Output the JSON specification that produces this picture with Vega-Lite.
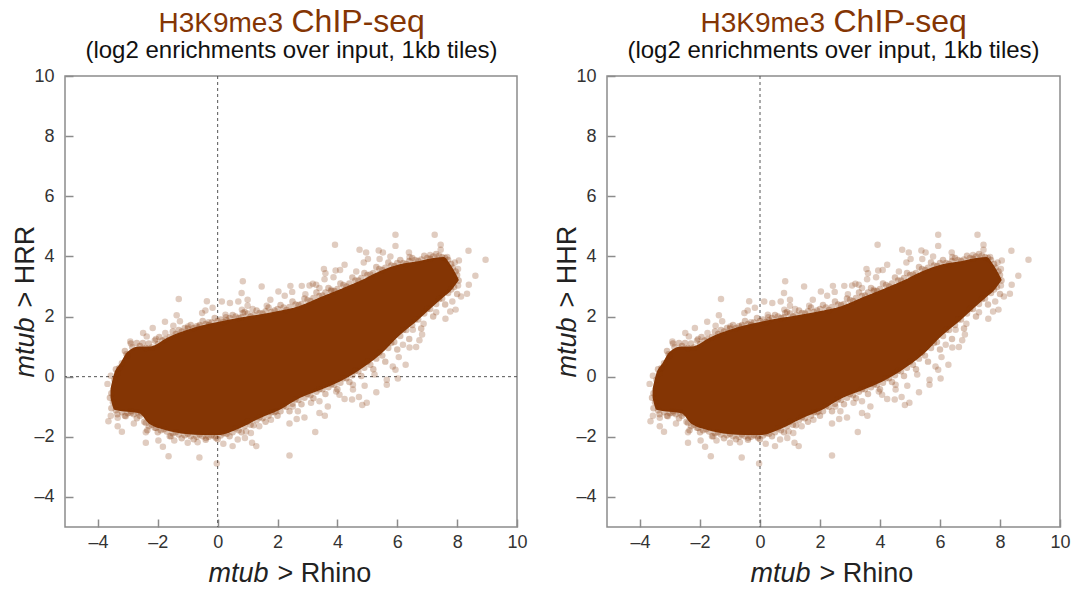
{"$schema":"https://vega.github.io/schema/vega-lite/v6.json","padding":{"left":10,"top":4,"right":0,"bottom":0},"background":"white","bounds":"flush","spacing":90,
"config":{"view":{"stroke":"#8c8c8c","strokeWidth":1.5},"font":"Liberation Sans","title":{"font":"Liberation Sans"},"axis":{"grid":false,"labelFont":"Liberation Sans","titleFont":"Liberation Sans"}},
"datasets":{
"core":[{"x":-3.58,"hi":-0.4,"lo":-0.7},{"x":-3.45,"hi":0.12,"lo":-1.1},{"x":-3.25,"hi":0.45,"lo":-1.14},{"x":-3.01,"hi":0.83,"lo":-1.17},{"x":-2.62,"hi":1.0,"lo":-1.22},{"x":-2.29,"hi":1.0,"lo":-1.57},{"x":-2.12,"hi":1.04,"lo":-1.66},{"x":-1.73,"hi":1.27,"lo":-1.78},{"x":-1.06,"hi":1.54,"lo":-1.91},{"x":-0.5,"hi":1.71,"lo":-1.94},{"x":0,"hi":1.82,"lo":-1.94},{"x":0.72,"hi":1.96,"lo":-1.72},{"x":1.39,"hi":2.07,"lo":-1.39},{"x":2.06,"hi":2.19,"lo":-1.11},{"x":2.73,"hi":2.35,"lo":-0.72},{"x":3.4,"hi":2.63,"lo":-0.45},{"x":4.07,"hi":2.9,"lo":-0.17},{"x":4.74,"hi":3.18,"lo":0.22},{"x":5.41,"hi":3.51,"lo":0.72},{"x":6.08,"hi":3.74,"lo":1.38},{"x":6.74,"hi":3.85,"lo":1.93},{"x":7.3,"hi":3.96,"lo":2.43},{"x":7.55,"hi":3.98,"lo":2.65},{"x":7.78,"hi":3.72,"lo":2.85},{"x":8.05,"hi":3.24,"lo":3.2}],
"fringe":[{"x":-3.45,"y":-0.1},{"x":-3.35,"y":0.12},{"x":-3.2,"y":0.45},{"x":-3.05,"y":0.75},{"x":-2.85,"y":0.98},{"x":-2.6,"y":1.02},{"x":-2.4,"y":0.95},{"x":-2.2,"y":0.97},{"x":-2.0,"y":1.08},{"x":-1.85,"y":1.2},{"x":-1.6,"y":1.32},{"x":-1.4,"y":1.42},{"x":-1.2,"y":1.5},{"x":-1,"y":1.6},{"x":-0.8,"y":1.62},{"x":-0.6,"y":1.72},{"x":-0.4,"y":1.75},{"x":-0.2,"y":1.8},{"x":0,"y":1.85},{"x":0.2,"y":1.82},{"x":0.4,"y":1.95},{"x":0.6,"y":2.0},{"x":0.8,"y":1.98},{"x":1,"y":2.1},{"x":1.2,"y":2.05},{"x":1.4,"y":2.12},{"x":1.6,"y":2.18},{"x":1.8,"y":2.15},{"x":2,"y":2.25},{"x":2.2,"y":2.3},{"x":2.4,"y":2.32},{"x":2.6,"y":2.4},{"x":2.8,"y":2.42},{"x":3,"y":2.55},{"x":3.2,"y":2.62},{"x":3.4,"y":2.68},{"x":3.6,"y":2.8},{"x":3.8,"y":2.85},{"x":4,"y":2.92},{"x":4.2,"y":3.05},{"x":4.4,"y":3.1},{"x":4.6,"y":3.2},{"x":4.8,"y":3.28},{"x":5,"y":3.38},{"x":5.2,"y":3.45},{"x":5.4,"y":3.58},{"x":5.6,"y":3.62},{"x":5.8,"y":3.7},{"x":6,"y":3.78},{"x":6.2,"y":3.78},{"x":6.4,"y":3.85},{"x":6.6,"y":3.88},{"x":6.8,"y":3.9},{"x":7,"y":3.95},{"x":7.2,"y":4.0},{"x":7.4,"y":4.02},{"x":7.6,"y":3.95},{"x":7.8,"y":3.75},{"x":7.95,"y":3.5},{"x":8.05,"y":3.2},{"x":-3.55,"y":-0.55},{"x":-3.5,"y":-0.85},{"x":-3.4,"y":-1.12},{"x":-3.2,"y":-1.18},{"x":-3,"y":-1.22},{"x":-2.8,"y":-1.25},{"x":-2.6,"y":-1.3},{"x":-2.45,"y":-1.5},{"x":-2.3,"y":-1.65},{"x":-2.1,"y":-1.7},{"x":-1.9,"y":-1.78},{"x":-1.7,"y":-1.82},{"x":-1.5,"y":-1.88},{"x":-1.3,"y":-1.92},{"x":-1.1,"y":-1.95},{"x":-0.9,"y":-1.98},{"x":-0.7,"y":-2},{"x":-0.5,"y":-1.98},{"x":-0.3,"y":-2},{"x":-0.1,"y":-1.98},{"x":0.1,"y":-1.96},{"x":0.3,"y":-1.9},{"x":0.5,"y":-1.85},{"x":0.7,"y":-1.78},{"x":0.9,"y":-1.65},{"x":1.1,"y":-1.6},{"x":1.3,"y":-1.45},{"x":1.5,"y":-1.38},{"x":1.7,"y":-1.3},{"x":1.9,"y":-1.18},{"x":2.1,"y":-1.15},{"x":2.3,"y":-1.0},{"x":2.5,"y":-0.9},{"x":2.7,"y":-0.78},{"x":2.9,"y":-0.7},{"x":3.1,"y":-0.62},{"x":3.3,"y":-0.5},{"x":3.5,"y":-0.42},{"x":3.7,"y":-0.35},{"x":3.9,"y":-0.28},{"x":4.1,"y":-0.2},{"x":4.3,"y":-0.05},{"x":4.5,"y":0.05},{"x":4.7,"y":0.18},{"x":4.9,"y":0.3},{"x":5.1,"y":0.4},{"x":5.3,"y":0.6},{"x":5.5,"y":0.7},{"x":5.7,"y":0.95},{"x":5.9,"y":1.15},{"x":6.1,"y":1.35},{"x":6.3,"y":1.55},{"x":6.5,"y":1.72},{"x":6.7,"y":1.9},{"x":6.9,"y":2.1},{"x":7.1,"y":2.25},{"x":7.3,"y":2.42},{"x":7.5,"y":2.6},{"x":7.7,"y":2.78},{"x":7.9,"y":2.98},
{"x":-3.4,"y":0.25},{"x":-3.1,"y":0.85},{"x":-2.9,"y":1.1},{"x":-2.7,"y":1.12},{"x":-2.5,"y":1.12},{"x":-2.3,"y":1.1},{"x":-2.1,"y":1.2},{"x":-1.95,"y":1.32},{"x":-1.75,"y":1.25},{"x":-1.5,"y":1.5},{"x":-1.3,"y":1.55},{"x":-1.1,"y":1.62},{"x":-0.9,"y":1.72},{"x":-0.7,"y":1.68},{"x":-0.5,"y":1.85},{"x":-0.3,"y":1.72},{"x":-0.1,"y":1.95},{"x":0.1,"y":1.9},{"x":0.3,"y":1.88},{"x":0.5,"y":2.05},{"x":0.7,"y":1.95},{"x":0.9,"y":2.15},{"x":1.1,"y":2.0},{"x":1.3,"y":2.2},{"x":1.5,"y":2.1},{"x":1.7,"y":2.3},{"x":1.9,"y":2.2},{"x":2.1,"y":2.38},{"x":2.3,"y":2.22},{"x":2.5,"y":2.5},{"x":2.7,"y":2.38},{"x":2.9,"y":2.6},{"x":3.1,"y":2.52},{"x":3.3,"y":2.8},{"x":3.5,"y":2.7},{"x":3.7,"y":2.95},{"x":3.9,"y":2.85},{"x":4.1,"y":3.1},{"x":4.3,"y":3.0},{"x":4.5,"y":3.3},{"x":4.7,"y":3.2},{"x":4.9,"y":3.45},{"x":5.1,"y":3.4},{"x":5.3,"y":3.65},{"x":5.5,"y":3.55},{"x":5.7,"y":3.8},{"x":5.9,"y":3.68},{"x":6.1,"y":3.88},{"x":6.3,"y":3.75},{"x":6.5,"y":3.95},{"x":6.7,"y":3.85},{"x":6.9,"y":4.02},{"x":7.1,"y":3.92},{"x":7.3,"y":4.08},{"x":7.5,"y":3.98},{"x":7.7,"y":3.88},{"x":7.85,"y":3.62},{"x":8.0,"y":3.38},
{"x":-3.6,"y":-0.7},{"x":-3.55,"y":-1.05},{"x":-3.35,"y":-1.25},{"x":-3.1,"y":-1.3},{"x":-2.9,"y":-1.15},{"x":-2.7,"y":-1.38},{"x":-2.55,"y":-1.22},{"x":-2.35,"y":-1.78},{"x":-2.2,"y":-1.6},{"x":-2,"y":-1.85},{"x":-1.8,"y":-1.75},{"x":-1.6,"y":-1.98},{"x":-1.4,"y":-1.85},{"x":-1.2,"y":-2.05},{"x":-1,"y":-1.9},{"x":-0.8,"y":-2.08},{"x":-0.6,"y":-1.92},{"x":-0.4,"y":-2.1},{"x":-0.2,"y":-1.95},{"x":0,"y":-2.08},{"x":0.2,"y":-1.88},{"x":0.4,"y":-1.98},{"x":0.6,"y":-1.72},{"x":0.8,"y":-1.85},{"x":1,"y":-1.5},{"x":1.2,"y":-1.62},{"x":1.4,"y":-1.35},{"x":1.6,"y":-1.5},{"x":1.8,"y":-1.18},{"x":2,"y":-1.3},{"x":2.2,"y":-0.98},{"x":2.4,"y":-1.15},{"x":2.6,"y":-0.75},{"x":2.8,"y":-0.92},{"x":3,"y":-0.58},{"x":3.2,"y":-0.72},{"x":3.4,"y":-0.42},{"x":3.6,"y":-0.58},{"x":3.8,"y":-0.25},{"x":4,"y":-0.42},{"x":4.2,"y":-0.05},{"x":4.4,"y":-0.18},{"x":4.6,"y":0.2},{"x":4.8,"y":0.02},{"x":5,"y":0.5},{"x":5.2,"y":0.25},{"x":5.4,"y":0.8},{"x":5.6,"y":0.5},{"x":5.8,"y":1.12},{"x":6,"y":0.9},{"x":6.2,"y":1.55},{"x":6.4,"y":1.25},{"x":6.6,"y":1.9},{"x":6.8,"y":1.6},{"x":7,"y":2.25},{"x":7.2,"y":2.0},{"x":7.4,"y":2.58},{"x":7.6,"y":2.4},{"x":7.8,"y":2.9},{"x":8,"y":2.75}],
"outliers":[{"x":5.94,"y":4.72},{"x":7.25,"y":4.72},{"x":3.92,"y":4.39},{"x":5.94,"y":4.35},{"x":7.45,"y":4.39},{"x":7.45,"y":4.22},{"x":4.74,"y":4.22},{"x":4.96,"y":4.13},{"x":5.38,"y":4.2},{"x":5.52,"y":4.13},{"x":6.39,"y":4.13},{"x":8.38,"y":4.19},{"x":8.95,"y":3.89},{"x":5.77,"y":4.0},{"x":6.41,"y":3.98},{"x":7.1,"y":4.05},{"x":5.41,"y":3.91},{"x":5.02,"y":3.91},{"x":4.88,"y":3.8},{"x":7.67,"y":3.98},{"x":8.06,"y":3.86},{"x":7.92,"y":3.8},{"x":8.03,"y":3.58},{"x":8.61,"y":3.36},{"x":8.39,"y":3.06},{"x":8.03,"y":3.03},{"x":8.33,"y":2.76},{"x":8.13,"y":2.67},{"x":7.84,"y":2.5},{"x":7.95,"y":2.23},{"x":7.77,"y":2.17},{"x":7.61,"y":1.93},{"x":7.3,"y":2.14},{"x":4.24,"y":3.72},{"x":4.09,"y":3.55},{"x":3.94,"y":3.53},{"x":3.55,"y":3.58},{"x":3.6,"y":3.44},{"x":4.63,"y":3.5},{"x":3.87,"y":3.31},{"x":3.57,"y":3.24},{"x":0.84,"y":3.17},{"x":1.47,"y":3.0},{"x":0.8,"y":2.78},{"x":2.03,"y":2.83},{"x":2.43,"y":3.02},{"x":2.49,"y":2.82},{"x":2.81,"y":3.02},{"x":3.18,"y":3.09},{"x":3.07,"y":3.03},{"x":3.29,"y":3.06},{"x":2.93,"y":2.74},{"x":2.24,"y":2.69},{"x":1.76,"y":2.56},{"x":-1.3,"y":2.58},{"x":-0.36,"y":2.51},{"x":0.14,"y":2.5},{"x":0.41,"y":2.45},{"x":0.69,"y":2.5},{"x":1.0,"y":2.56},{"x":1.0,"y":2.36},{"x":-0.17,"y":2.29},{"x":-0.41,"y":2.2},{"x":-0.52,"y":2.12},{"x":0.81,"y":2.23},{"x":1.17,"y":2.25},{"x":1.64,"y":2.36},{"x":-1.37,"y":2.04},{"x":-1.26,"y":1.84},{"x":-1.76,"y":1.83},{"x":-1.48,"y":1.69},{"x":-0.99,"y":1.67},{"x":-2.17,"y":1.62},{"x":-2.49,"y":1.45},{"x":-2.37,"y":1.34},{"x":-2.06,"y":1.25},{"x":-1.75,"y":1.45},{"x":-2.92,"y":1.17},{"x":-0.3,"y":1.81},{"x":0.26,"y":2.06},{"x":0.28,"y":1.98},{"x":-0.61,"y":1.67},{"x":0.84,"y":2.12},{"x":3.4,"y":2.95},{"x":3.79,"y":2.89},{"x":-3.57,"y":0.03},{"x":-3.68,"y":-0.24},{"x":-3.29,"y":0.29},{"x":-3.01,"y":0.7},{"x":-3.65,"y":-1.48},{"x":-3.57,"y":-1.3},{"x":-3.34,"y":-1.37},{"x":-3.34,"y":-1.65},{"x":-3.2,"y":-1.83},{"x":-2.8,"y":-1.56},{"x":-2.68,"y":-1.18},{"x":-2.9,"y":-1.21},{"x":-2.4,"y":-1.85},{"x":-2.4,"y":-2.2},{"x":-1.98,"y":-2.12},{"x":-1.83,"y":-2.33},{"x":-1.64,"y":-2.65},{"x":-1.45,"y":-2.12},{"x":-1.0,"y":-2.2},{"x":-0.67,"y":-2.18},{"x":-0.61,"y":-2.69},{"x":-0.03,"y":-2.89},{"x":0.19,"y":-2.23},{"x":0.5,"y":-2.31},{"x":0.67,"y":-2.09},{"x":0.91,"y":-2.04},{"x":1.15,"y":-2.2},{"x":1.29,"y":-2.31},{"x":1.11,"y":-1.87},{"x":2.4,"y":-1.56},{"x":2.4,"y":-2.62},{"x":3.26,"y":-1.84},{"x":2.9,"y":-1.36},{"x":2.64,"y":-1.41},{"x":2.68,"y":-1.15},{"x":1.95,"y":-1.15},{"x":1.78,"y":-1.43},{"x":3.4,"y":-1.21},{"x":3.58,"y":-1.3},{"x":3.68,"y":-0.99},{"x":4.24,"y":-0.74},{"x":4.49,"y":-0.76},{"x":4.72,"y":-0.68},{"x":4.98,"y":-0.87},{"x":4.83,"y":-0.94},{"x":5.3,"y":-0.52},{"x":6.02,"y":-0.06},{"x":5.65,"y":-0.27},{"x":5.65,"y":-0.1},{"x":6.28,"y":0.4},{"x":5.94,"y":0.23},{"x":6.05,"y":0.65},{"x":6.63,"y":0.99},{"x":6.41,"y":0.97},{"x":6.19,"y":1.06},{"x":6.74,"y":1.21},{"x":6.83,"y":1.4},{"x":6.88,"y":1.76},{"x":6.52,"y":1.56},{"x":5.85,"y":0.34},{"x":5.24,"y":0.07},{"x":4.52,"y":-0.27},{"x":4.91,"y":-0.3},{"x":4.52,"y":-0.43},{"x":3.96,"y":-0.49},{"x":4.07,"y":-0.6},{"x":3.4,"y":-0.82},{"x":3.12,"y":-0.87},{"x":2.51,"y":-0.99},{"x":1.39,"y":-1.65},{"x":0.95,"y":-1.82},{"x":-0.39,"y":-2.04},{"x":-0.06,"y":-2.04},{"x":-1.56,"y":-1.98},{"x":-2.06,"y":-1.71},{"x":-2.4,"y":-1.54},{"x":-3.07,"y":-1.32}],
"zero":[{"v":0}]},
"hconcat":[
{"width":452,"height":451,
"resolve":{"axis":{"x":"independent","y":"independent"}},
"layer":[
{"data":{"name":"zero"},"mark":{"type":"rule","color":"#555555","strokeDash":[3,3],"strokeWidth":1},"encoding":{"x":{"field":"v","type":"quantitative","scale":{"domain":[-5.1,10],"nice":false,"zero":false},"axis":{"orient":"top","labels":false,"ticks":false,"domain":false,"title":"H3K9me3","titleFontSize":28,"titleFontWeight":"normal","titleColor":"#843504","titleAlign":"left","titleX":93,"titleY":-45,"titleBaseline":"alphabetic"}}}},
{"data":{"name":"zero"},"mark":{"type":"rule","color":"#555555","strokeDash":[3,3],"strokeWidth":1,"opacity":0},"encoding":{"x":{"field":"v","type":"quantitative","scale":{"domain":[-5.1,10],"nice":false,"zero":false},"axis":{"orient":"top","labels":false,"ticks":false,"domain":false,"title":"(log2 enrichments over input, 1kb tiles)","titleFontSize":24,"titleFontWeight":"normal","titleColor":"#111111","titleAlign":"center","titleX":226,"titleY":-19,"titleBaseline":"alphabetic"}}}},
{"data":{"name":"zero"},"mark":{"type":"rule","color":"#555555","strokeDash":[3,3],"strokeWidth":1},"encoding":{"y":{"field":"v","type":"quantitative","scale":{"domain":[-5,10],"nice":false,"zero":false},"axis":null}}},
{"data":{"name":"core"},"mark":{"type":"area","color":"#843504","opacity":1,"interpolate":"monotone"},"encoding":{"x":{"field":"x","type":"quantitative","scale":{"domain":[-5.1,10],"nice":false,"zero":false},"axis":{"orient":"bottom","values":[-4,-2,0,2,4,6,8,10],"domain":false,"tickColor":"#8c8c8c","tickSize":-8,"tickWidth":1.5,"labelFontSize":18,"labelColor":"#333333","labelPadding":14,"labelFlush":false,"labelExpr":"datum.value<0 ? '–'+abs(datum.value) : datum.label","title":"mtub","titleFontSize":27,"titleFontStyle":"italic","titleFontWeight":"normal","titleColor":"#222222","titleAlign":"left","titleX":143,"titleY":54,"titleBaseline":"alphabetic"}},"y":{"field":"lo","type":"quantitative","scale":{"domain":[-5,10],"nice":false,"zero":false},"axis":{"orient":"left","values":[-4,-2,0,2,4,6,8,10],"domain":false,"tickColor":"#8c8c8c","tickSize":-8,"tickWidth":1.5,"labelFontSize":18,"labelColor":"#333333","labelPadding":19,"labelFlush":false,"labelExpr":"datum.value<0 ? '–'+abs(datum.value) : datum.label","title":"mtub","titleFontSize":27,"titleFontStyle":"italic","titleFontWeight":"normal","titleColor":"#222222","titleAlign":"left","titleX":-32,"titleY":301,"titleBaseline":"alphabetic"}},"y2":{"field":"hi"}}},
{"data":{"name":"fringe"},"mark":{"type":"circle","color":"#843504","opacity":0.3,"size":42},"encoding":{"x":{"field":"x","type":"quantitative","scale":{"domain":[-5.1,10],"nice":false,"zero":false},"axis":{"orient":"bottom","labels":false,"ticks":false,"domain":false,"title":"> Rhino","titleFontSize":27,"titleFontWeight":"normal","titleColor":"#222222","titleAlign":"left","titleX":212,"titleY":54,"titleBaseline":"alphabetic"}},"y":{"field":"y","type":"quantitative","scale":{"domain":[-5,10],"nice":false,"zero":false},"axis":{"orient":"left","labels":false,"ticks":false,"domain":false,"title":"> HRR","titleFontSize":27,"titleFontWeight":"normal","titleColor":"#222222","titleAlign":"left","titleX":-32,"titleY":231,"titleBaseline":"alphabetic"}}}},
{"data":{"name":"outliers"},"mark":{"type":"circle","color":"#843504","opacity":0.25,"size":42},"encoding":{"x":{"field":"x","type":"quantitative","scale":{"domain":[-5.1,10],"nice":false,"zero":false},"axis":{"orient":"top","labels":false,"ticks":false,"domain":false,"title":"ChIP-seq","titleFontSize":32,"titleFontWeight":"normal","titleColor":"#843504","titleAlign":"left","titleX":226,"titleY":-45,"titleBaseline":"alphabetic"}},"y":{"field":"y","type":"quantitative","scale":{"domain":[-5,10],"nice":false,"zero":false},"axis":null}}}
]},
{"width":453,"height":451,
"resolve":{"axis":{"x":"independent","y":"independent"}},
"layer":[
{"data":{"name":"zero"},"mark":{"type":"rule","color":"#555555","strokeDash":[3,3],"strokeWidth":1},"encoding":{"x":{"field":"v","type":"quantitative","scale":{"domain":[-5.1,10],"nice":false,"zero":false},"axis":{"orient":"top","labels":false,"ticks":false,"domain":false,"title":"H3K9me3","titleFontSize":28,"titleFontWeight":"normal","titleColor":"#843504","titleAlign":"left","titleX":93,"titleY":-45,"titleBaseline":"alphabetic"}}}},
{"data":{"name":"zero"},"mark":{"type":"rule","color":"#555555","strokeDash":[3,3],"strokeWidth":1,"opacity":0},"encoding":{"x":{"field":"v","type":"quantitative","scale":{"domain":[-5.1,10],"nice":false,"zero":false},"axis":{"orient":"top","labels":false,"ticks":false,"domain":false,"title":"(log2 enrichments over input, 1kb tiles)","titleFontSize":24,"titleFontWeight":"normal","titleColor":"#111111","titleAlign":"center","titleX":226,"titleY":-19,"titleBaseline":"alphabetic"}}}},
{"data":{"name":"core"},"mark":{"type":"area","color":"#843504","opacity":1,"interpolate":"monotone"},"encoding":{"x":{"field":"x","type":"quantitative","scale":{"domain":[-5.1,10],"nice":false,"zero":false},"axis":{"orient":"bottom","values":[-4,-2,0,2,4,6,8,10],"domain":false,"tickColor":"#8c8c8c","tickSize":-8,"tickWidth":1.5,"labelFontSize":18,"labelColor":"#333333","labelPadding":14,"labelFlush":false,"labelExpr":"datum.value<0 ? '–'+abs(datum.value) : datum.label","title":"mtub","titleFontSize":27,"titleFontStyle":"italic","titleFontWeight":"normal","titleColor":"#222222","titleAlign":"left","titleX":143,"titleY":54,"titleBaseline":"alphabetic"}},"y":{"field":"lo","type":"quantitative","scale":{"domain":[-5,10],"nice":false,"zero":false},"axis":{"orient":"left","values":[-4,-2,0,2,4,6,8,10],"domain":false,"tickColor":"#8c8c8c","tickSize":-8,"tickWidth":1.5,"labelFontSize":18,"labelColor":"#333333","labelPadding":19,"labelFlush":false,"labelExpr":"datum.value<0 ? '–'+abs(datum.value) : datum.label","title":"mtub","titleFontSize":27,"titleFontStyle":"italic","titleFontWeight":"normal","titleColor":"#222222","titleAlign":"left","titleX":-32,"titleY":301,"titleBaseline":"alphabetic"}},"y2":{"field":"hi"}}},
{"data":{"name":"fringe"},"mark":{"type":"circle","color":"#843504","opacity":0.3,"size":42},"encoding":{"x":{"field":"x","type":"quantitative","scale":{"domain":[-5.1,10],"nice":false,"zero":false},"axis":{"orient":"bottom","labels":false,"ticks":false,"domain":false,"title":"> Rhino","titleFontSize":27,"titleFontWeight":"normal","titleColor":"#222222","titleAlign":"left","titleX":212,"titleY":54,"titleBaseline":"alphabetic"}},"y":{"field":"y","type":"quantitative","scale":{"domain":[-5,10],"nice":false,"zero":false},"axis":{"orient":"left","labels":false,"ticks":false,"domain":false,"title":"> HHR","titleFontSize":27,"titleFontWeight":"normal","titleColor":"#222222","titleAlign":"left","titleX":-32,"titleY":231,"titleBaseline":"alphabetic"}}}},
{"data":{"name":"outliers"},"mark":{"type":"circle","color":"#843504","opacity":0.25,"size":42},"encoding":{"x":{"field":"x","type":"quantitative","scale":{"domain":[-5.1,10],"nice":false,"zero":false},"axis":{"orient":"top","labels":false,"ticks":false,"domain":false,"title":"ChIP-seq","titleFontSize":32,"titleFontWeight":"normal","titleColor":"#843504","titleAlign":"left","titleX":226,"titleY":-45,"titleBaseline":"alphabetic"}},"y":{"field":"y","type":"quantitative","scale":{"domain":[-5,10],"nice":false,"zero":false},"axis":null}}}
]}
]}
